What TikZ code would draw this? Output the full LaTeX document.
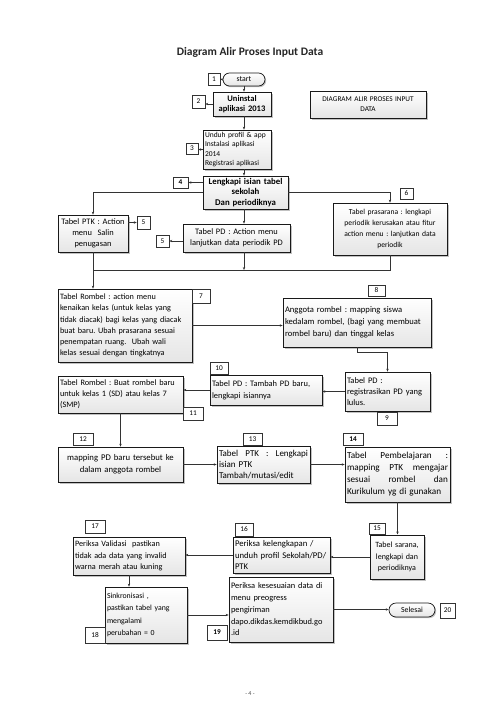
\documentclass[tikz,border=0pt]{standalone}
\usepackage{fontspec}
\setmainfont{Carlito}
\frenchspacing
\usetikzlibrary{arrows.meta,shadows,shapes.misc}
\newcommand{\fs}[2]{\fontsize{#1}{#2}\selectfont}
\tikzset{
 boxs/.style={draw=black!90, line width=0.7pt, top color=white, bottom color=gray!20,
   drop shadow={shadow xshift=1.6pt,shadow yshift=-1.6pt,fill=gray!60,opacity=0.8},
   font=\fs{8.5}{11}, inner xsep=2pt, inner ysep=0.5pt},
 lab/.style={draw=black!80, line width=0.5pt, fill=white, font=\fs{7.3}{8}, inner sep=0pt, align=center},
 term/.style={rounded rectangle, draw=black!90, line width=0.7pt, top color=white, bottom color=gray!20,
   drop shadow={shadow xshift=1.2pt,shadow yshift=-1.2pt,fill=gray!60,opacity=0.8},
   font=\fs{7.8}{9}, inner sep=0pt},
 arr/.style={-{Stealth[length=3pt,width=2.4pt]}, line width=0.5pt, draw=black!80},
 ln/.style={line width=0.5pt, draw=black!80},
}
\newcommand{\bxnode}[7]{%
 \pgfmathsetmacro\bxcx{(#3+#5)/2}%
 \pgfmathsetmacro\bxcy{(#4+#6)/2}%
 \pgfmathsetmacro\bxw{#5-#3}%
 \pgfmathsetmacro\bxh{#6-#4}%
 \pgfmathsetmacro\bxtw{#5-#3-4}%
 \node[#1,minimum width=\bxw pt,minimum height=\bxh pt,text width=\bxtw pt] (#2) at (\bxcx,\bxcy) {#7};}
\begin{document}
\begin{tikzpicture}[x=1pt,y=-1pt]
\useasboundingbox[fill=white] (0,0) rectangle (500,719);
\node[font=\fs{11.5}{13}\bfseries, text=black!85] (title) at (250,52) {Diagram Alir Proses Input Data};

% terminals
\node[term, minimum width=42pt, minimum height=13pt] (start) at (244,79.5) {start};
\node[term, minimum width=46pt, minimum height=14pt] (sel) at (412,610) {Selesai};

% boxes
\bxnode{boxs,align=center,font=\fs{8.5}{10}\bfseries}{b2}{213}{92}{271}{116}{Uninstal\\aplikasi 2013}
\bxnode{boxs,align=center,font=\fs{7.3}{10}}{diag}{310}{91}{426}{118}{DIAGRAM ALIR PROSES INPUT\\DATA}
\bxnode{boxs,align=left,font=\fs{7.5}{9.6},inner ysep=0pt,inner xsep=1.5pt}{b3}{203}{130}{271}{169}{Unduh profil \& app\\Instalasi aplikasi\\2014\\Registrasi aplikasi}
\bxnode{boxs,align=center,font=\fs{8.8}{10.5}\bfseries}{b4}{203}{176}{288}{209}{Lengkapi isian tabel\\sekolah\\Dan periodiknya}
\bxnode{boxs,align=center,font=\fs{8.4}{11},inner xsep=1pt}{ptk}{58}{215}{128}{252}{Tabel PTK : Action\\menu\ \ Salin\\penugasan}
\bxnode{boxs,align=center,font=\fs{8.4}{11}}{pd}{183}{224}{290}{252}{Tabel PD : Action menu\\lanjutkan data periodik PD}
\bxnode{boxs,align=center,font=\fs{7.6}{11}}{pras}{333}{203}{447}{255}{Tabel prasarana : lengkapi\\periodik kerusakan atau fitur\\action menu : lanjutkan data\\periodik}
\bxnode{boxs,align=left,font=\fs{8.2}{11.2}}{r7}{58}{289}{192}{362}{Tabel Rombel : action menu\\kenaikan kelas (untuk kelas yang\\tidak diacak) bagi kelas yang diacak\\buat baru. Ubah prasarana sesuai\\penempatan ruang.\ \ Ubah wali\\kelas sesuai dengan tingkatnya}
\bxnode{boxs,align=left,font=\fs{8.6}{12}}{angg}{283}{298}{431}{347}{Anggota rombel : mapping siswa\\kedalam rombel, (bagi yang membuat\\rombel baru) dan tinggal kelas}
\bxnode{boxs,align=left,font=\fs{8.5}{11}}{pd9}{345}{372}{430}{411}{Tabel PD :\\registrasikan PD yang\\lulus.}
\bxnode{boxs,align=left,font=\fs{8.4}{12}}{b10}{210}{375}{322}{405}{Tabel PD : Tambah PD baru,\\lengkapi isiannya}
\bxnode{boxs,align=left,font=\fs{8.3}{11}}{r11}{58}{376}{183}{413}{Tabel Rombel : Buat rombel baru\\untuk kelas 1 (SD) atau kelas 7\\(SMP)}
\bxnode{boxs,align=center,font=\fs{8.7}{12}}{b12}{58}{447}{183}{482}{mapping PD baru tersebut ke\\dalam anggota rombel}
\bxnode{boxs,align=left,font=\fs{9}{11}}{b13}{217}{446}{310}{483}{Tabel\hfill PTK\hfill :\hfill Lengkapi\\isian PTK\\Tambah/mutasi/edit}
\bxnode{boxs,align=left,font=\fs{9.2}{12}}{b14}{345}{447}{450}{502}{Tabel\hfill Pembelajaran\hfill :\\mapping\hfill PTK\hfill mengajar\\sesuai\hfill rombel\hfill dan\\Kurikulum yg di gunakan}
\bxnode{boxs,align=center,line width=1pt,font=\fs{8}{11.5}}{b15}{370}{535}{424}{579}{Tabel sarana,\\lengkapi dan\\periodiknya}
\bxnode{boxs,align=left,font=\fs{8.7}{11.5}}{b16}{233}{537}{330}{573}{Periksa kelengkapan /\\unduh profil Sekolah/PD/\\PTK}
\bxnode{boxs,align=left,font=\fs{8.2}{11.5}}{b17}{73}{537}{185}{575}{Periksa Validasi\ \ pastikan\\tidak ada data yang invalid\\warna merah atau kuning}
\bxnode{boxs,align=left,font=\fs{7.8}{12.5}}{b18}{105}{587}{187}{643}{Sinkronisasi ,\\pastikan tabel yang\\mengalami\\perubahan = 0}
\bxnode{boxs,align=left,font=\fs{8.4}{11.8}}{b19}{229}{577}{333}{642}{Periksa kesesuaian data di\\menu preogress\\pengiriman\\dapo.dikdas.kemdikbud.go\\.id}

% labels
\bxnode{lab}{l1}{208}{73}{220}{85}{1}
\bxnode{lab}{l2}{192}{95}{205}{108}{2}
\bxnode{lab}{l3}{186}{143}{198}{154}{3}
\bxnode{lab,font=\fs{7.3}{8}\bfseries,line width=0.8pt}{l4}{173}{177}{188}{188}{4}
\bxnode{lab}{l5}{137}{216}{150}{229}{5}
\bxnode{lab}{l5b}{156}{235}{169}{247}{5}
\bxnode{lab}{l6}{400}{188}{413}{199}{6}
\bxnode{lab}{l7}{192}{289}{210}{303}{7}
\bxnode{lab}{l8}{368}{285}{385}{296}{8}
\bxnode{lab}{l9}{377}{412}{397}{425}{9}
\bxnode{lab}{l10}{210}{362}{228}{374}{10}
\bxnode{lab}{l11}{183}{407}{203}{420}{11}
\bxnode{lab}{l12}{73}{433}{93}{445}{12}
\bxnode{lab}{l13}{243}{433}{262}{445}{13}
\bxnode{lab,font=\fs{7.3}{8}\bfseries,line width=0.8pt}{l14}{343}{433}{363}{445}{14}
\bxnode{lab}{l15}{369}{523}{385}{534}{15}
\bxnode{lab}{l16}{235}{523}{253}{536}{16}
\bxnode{lab}{l17}{85}{520}{105}{533}{17}
\bxnode{lab}{l18}{85}{627}{105}{643}{18}
\bxnode{lab,font=\fs{7.3}{8}\bfseries,line width=0.8pt}{l19}{207}{625}{227}{640}{19}
\bxnode{lab}{l20}{440}{603}{455}{618}{20}

% label connectors
\draw[arr] (start.west) -- (l1.east);
\draw[arr] (b2.west) -- (b2.west -| l2.east);
\draw[arr] (b3.west) -- (b3.west -| l3.east);
\draw[arr] (l4.east -| b4.west) -- (l4.east);
\draw[arr] (l5.west -| ptk.east) -- (l5.west);
\draw[arr] (l5b.east -| pd.west) -- (l5b.east);

% flow
\draw[arr] (start.south) -- (start.south |- b2.north);
\draw[arr] (start.south |- b2.south) -- (start.south |- b3.north);
\draw[arr] (start.south |- b3.south) -- (start.south |- b4.north);
\draw[arr] (b4.west) -| (ptk.north);
\draw[arr] (b4.east) -| (pras.north);
\draw[arr] (start.south |- b4.south) -- (start.south |- pd.north);
\coordinate (busL) at (93,270);
\draw[ln] (ptk.south) -- (ptk.south |- busL);
\draw[arr] (start.south |- pd.south) -- (start.south |- busL);
\draw[ln] (pras.south) |- (busL);
\draw[arr] (busL) -- (busL |- r7.north);
\draw[arr] (r7.east) -- (r7.east -| angg.west);
\draw[arr] (angg.south) -- ++(0,5) -| (pd9.north);
\draw[arr] (pd9.west) -- (pd9.west -| b10.east);
\draw[arr] (b10.west) -- (b10.west -| r11.east);
\draw[arr] (r11.south) -- (r11.south |- b12.north);
\draw[arr] (b12.east) -- (b12.east -| b13.west);
\draw[arr] (b13.east) -- (b13.east -| b14.west);
\draw[arr] (b14.south) -- (b14.south |- b15.north);
\draw[arr] (b15.west) -- (b15.west -| b16.east);
\draw[arr] (b16.west) -- (b16.west -| b17.east);
\draw[arr] (b17.south) -- (b17.south |- b18.north);
\draw[arr] (b18.east) -- (b18.east -| b19.west);
\draw[arr] (b19.east) -- (b19.east -| sel.west);

\node[font=\fs{6}{7}, text=black!70] (page) at (250,694) {- 4 -};
\end{tikzpicture}
\end{document}
